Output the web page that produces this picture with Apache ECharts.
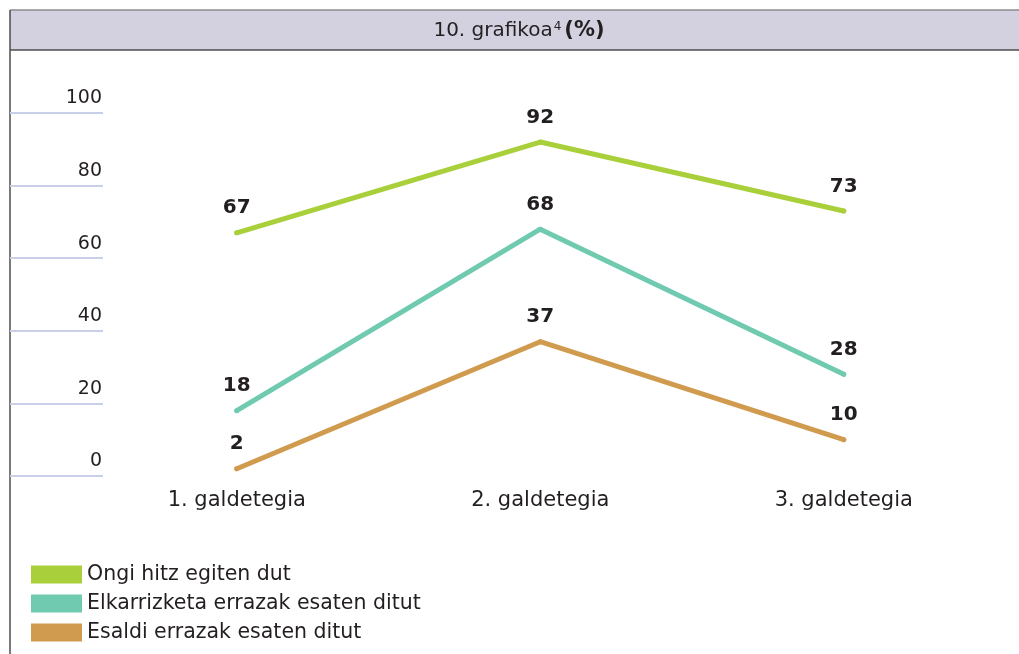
<!DOCTYPE html>
<html>
<head>
<meta charset="utf-8">
<script src="https://cdn.jsdelivr.net/npm/echarts@6/dist/echarts.min.js"></script>
<style>
html,body{margin:0;padding:0;background:#fff;}
#chart{width:1019px;height:654px;}
</style>
</head>
<body>
<div id="chart"></div>
<script>
const categories = ['1. galdetegia', '2. galdetegia', '3. galdetegia'];
const seriesNames = ['Ongi hitz egiten dut', 'Elkarrizketa errazak esaten ditut', 'Esaldi errazak esaten ditut'];
const ongiValues = [67, 92, 73];
const elkarrizketaValues = [18, 68, 28];
const esaldiValues = [2, 37, 10];
const yTicks = [0, 20, 40, 60, 80, 100];

const colors = ['#a9cf3b', '#6fcab0', '#d09b4f'];
const FONT = '"DejaVu Sans", Inter, sans-serif';
const TXT = '#231f20';

const chart = echarts.init(document.getElementById('chart'), null, {renderer: 'canvas'});

function mkSeries(name, data, color) {
  return {
    name: name,
    type: 'line',
    data: data,
    symbol: 'circle',
    symbolSize: 5,
    showSymbol: true,
    itemStyle: {color: color},
    lineStyle: {color: color, width: 5, cap: 'round', join: 'round'},
    label: {
      show: true,
      position: 'top',
      distance: 12,
      fontFamily: FONT,
      fontWeight: 'bold',
      fontSize: 20,
      color: TXT
    },
    emphasis: {disabled: true},
    animation: false
  };
}

const option = {
  animation: false,
  backgroundColor: '#ffffff',
  graphic: [
    {type: 'rect', shape: {x: 10, y: 10, width: 1020, height: 40}, style: {fill: '#d3d0df'}},
    {type: 'line', shape: {x1: 10, y1: 10, x2: 1019, y2: 10}, style: {stroke: '#8c8c8c', lineWidth: 1.5}},
    {type: 'line', shape: {x1: 10, y1: 50, x2: 1019, y2: 50}, style: {stroke: '#4d4d4d', lineWidth: 1.5}},
    {type: 'line', shape: {x1: 10, y1: 10, x2: 10, y2: 654}, style: {stroke: '#4d4d4d', lineWidth: 1.5}},
    {
      type: 'text', x: 519, y: 31,
      style: {
        text: '{a|10. grafikoa}{s|4}{b|(%)}',
        align: 'center', verticalAlign: 'middle',
        rich: {
          a: {fontFamily: FONT, fontSize: 20, fill: TXT, color: TXT},
          s: {fontFamily: FONT, fontSize: 12, fill: TXT, color: TXT, padding: [0, 3, 9, 1]},
          b: {fontFamily: FONT, fontSize: 21, fontWeight: 'bold', fill: TXT, color: TXT}
        }
      }
    }
  ],
  legend: {
    orient: 'vertical',
    left: 31,
    top: 564,
    height: 90,
    padding: 0,
    itemWidth: 51,
    itemHeight: 18,
    itemGap: 8,
    icon: 'rect',
    selectedMode: false,
    data: seriesNames,
    textStyle: {fontFamily: FONT, fontSize: 20.5, color: TXT}
  },
  grid: {left: 85, right: 23.5, top: 113, bottom: 178, containLabel: false},
  xAxis: {
    type: 'category',
    data: categories,
    boundaryGap: true,
    axisLine: {show: false},
    axisTick: {show: false},
    axisLabel: {fontFamily: FONT, fontSize: 21, color: TXT, margin: 14}
  },
  yAxis: {
    type: 'value',
    min: 0,
    max: 100,
    interval: 20,
    offset: -18,
    axisLine: {show: false},
    splitLine: {show: false},
    axisTick: {show: true, length: 93, lineStyle: {color: '#c9cfe9', width: 2}},
    axisLabel: {
      fontFamily: FONT, fontSize: 19, color: TXT, margin: 1,
      verticalAlign: 'bottom', padding: [0, 0, 5, 0],
      formatter: function (v) { return yTicks.indexOf(v) >= 0 ? String(v) : ''; }
    }
  },
  series: [
    mkSeries(seriesNames[0], ongiValues, colors[0]),
    mkSeries(seriesNames[1], elkarrizketaValues, colors[1]),
    mkSeries(seriesNames[2], esaldiValues, colors[2])
  ]
};
chart.setOption(option);
</script>
</body>
</html>
